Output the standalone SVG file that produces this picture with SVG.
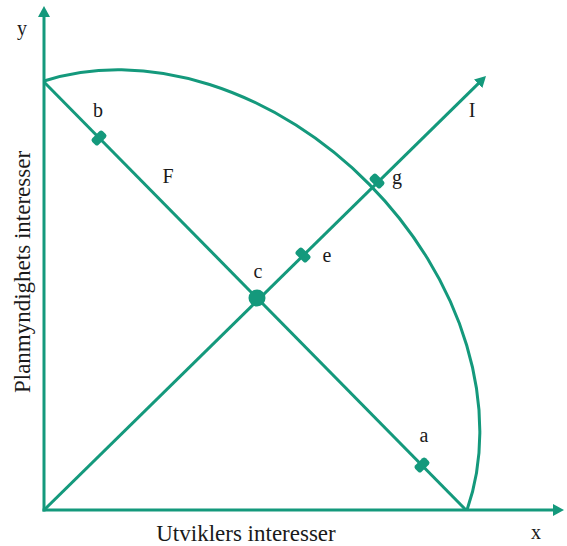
<svg xmlns="http://www.w3.org/2000/svg" width="567" height="546" viewBox="0 0 567 546">
<style>
.ln{stroke:#14997c;stroke-width:3;fill:none}
.tk{fill:#14997c}
.t{font-family:"Liberation Serif","Times New Roman",serif;font-size:20px;fill:#1a1a1a}
.tt{font-family:"Liberation Serif","Times New Roman",serif;font-size:23px;fill:#1a1a1a}
</style>
<defs>
<marker id="arr" markerUnits="userSpaceOnUse" viewBox="0 0 11 12" markerWidth="11" markerHeight="12" refX="3" refY="6" orient="auto">
<path d="M0,0 L11,6 L0,12 Z" fill="#14997c"/>
</marker>
<rect id="tick" x="-7.5" y="-4.5" width="15" height="9" rx="2.5"/>
</defs>
<rect width="567" height="546" fill="#fff"/>
<g id="connectors">
<line id="y-axis" class="ln" x1="44" y1="511.5" x2="44" y2="14" marker-end="url(#arr)"/>
<line id="x-axis" class="ln" x1="42.5" y1="510" x2="556" y2="510" marker-end="url(#arr)"/>
<line id="line-I" class="ln" x1="44" y1="510" x2="480.3" y2="81.6" marker-end="url(#arr)"/>
<line id="line-F" class="ln" x1="44" y1="82" x2="466" y2="510"/>
<path id="curve" class="ln" d="M44,81 A322 246 45 0 1 467,510"/>
</g>
<g id="ticks" class="tk">
<use id="tick-b" href="#tick" transform="translate(99,138) rotate(-45)"/>
<use id="tick-a" href="#tick" transform="translate(422,465) rotate(-45)"/>
<use id="tick-e" href="#tick" transform="translate(303,255) rotate(45)"/>
<use id="tick-g" href="#tick" transform="translate(377,181) rotate(45)"/>
</g>
<g id="node-c"><circle cx="257" cy="298" r="8.5" fill="#14997c"/></g>
<g id="labels">
<text class="t" x="22" y="35" text-anchor="middle">y</text>
<text class="t" x="536" y="539" text-anchor="middle">x</text>
<text class="t" x="98" y="117" text-anchor="middle">b</text>
<text class="t" x="168" y="183" text-anchor="middle">F</text>
<text class="t" x="258" y="278" text-anchor="middle">c</text>
<text class="t" x="327" y="262" text-anchor="middle">e</text>
<text class="t" x="397" y="184" text-anchor="middle">g</text>
<text class="t" x="472" y="117" text-anchor="middle">I</text>
<text class="t" x="424" y="442" text-anchor="middle">a</text>
<text class="tt" x="246" y="541" text-anchor="middle">Utviklers interesser</text>
<text class="tt" x="30" y="272" text-anchor="middle" transform="rotate(-90 30 272)">Planmyndighets interesser</text>
</g>
</svg>
